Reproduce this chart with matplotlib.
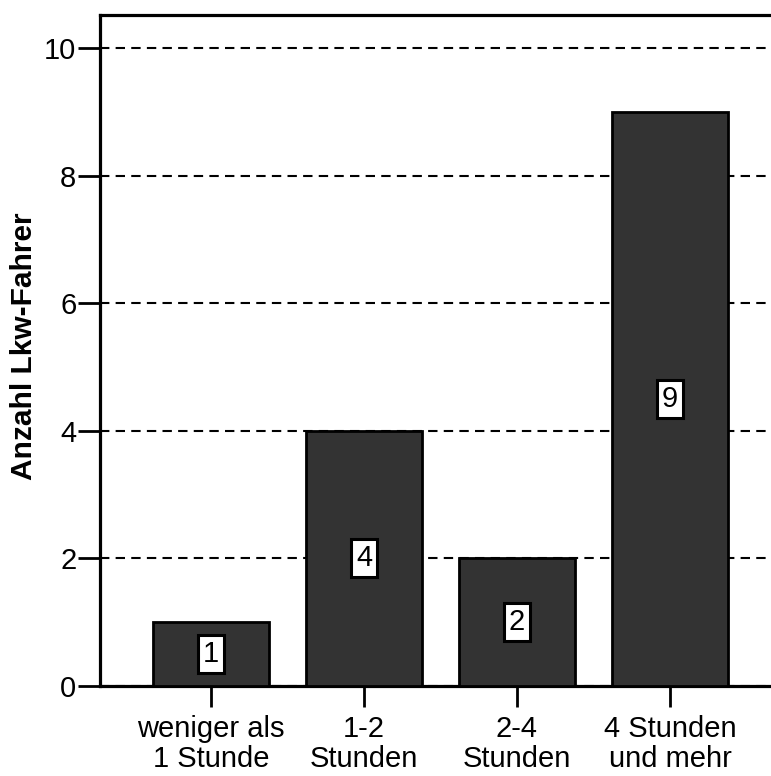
import numpy as np
import matplotlib
matplotlib.use("Agg")
import matplotlib.pyplot as plt

plt.rcParams['font.family'] = ['Liberation Sans', 'DejaVu Sans']

# Fahrzeit-Kategorien und Anzahl der Lkw-Fahrer
kategorien = ['weniger als\n1 Stunde', '1-2\nStunden', '2-4\nStunden', '4 Stunden\nund mehr']
anzahl = [1, 4, 2, 9]
y_ticks = [0, 2, 4, 6, 8, 10]

fig = plt.figure(figsize=(7.71, 7.76), dpi=100)
ax = fig.add_axes([0.1297, 0.116, 0.8703, 0.8647])

x = np.arange(len(kategorien))
bars = ax.bar(x, anzahl, width=0.76, color='#333333', edgecolor='black',
              linewidth=2.0, zorder=3)

# Wertelabels in weißen Kästchen, mittig im Balken
for xi, v in zip(x, anzahl):
    ax.text(xi, v / 2, str(v), ha='center', va='center', fontsize=21,
            color='black', zorder=4,
            bbox=dict(boxstyle='square,pad=0.17', facecolor='white',
                      edgecolor='black', linewidth=2.2))

ax.set_xlim(-0.725, 3.66)
ax.set_ylim(0, 10.52)
ax.set_yticks(y_ticks)
ax.set_xticks(x)
ax.set_xticklabels(kategorien, fontsize=21, linespacing=1.1)
ax.tick_params(axis='y', labelsize=21, length=16, width=2.0, pad=1, direction='out')
ax.tick_params(axis='x', length=15, width=2.0, pad=6, direction='out')

ax.grid(axis='y', color='black', linestyle=(0, (4.5, 3)), linewidth=1.5, zorder=0)
ax.set_axisbelow(True)

for side in ['left', 'top', 'bottom']:
    ax.spines[side].set_linewidth(2.3)
ax.spines['right'].set_visible(False)

fig.text(24 / 771, 0.554, 'Anzahl Lkw-Fahrer', fontsize=21.5, fontweight='bold',
         rotation=90, ha='center', va='center')

fig.savefig('out.png', dpi=100)
